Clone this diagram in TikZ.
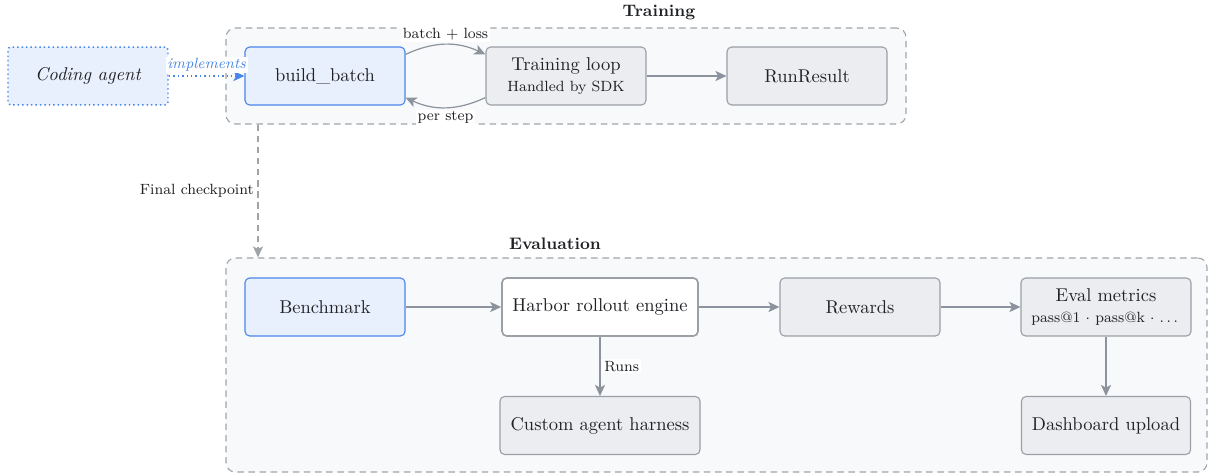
\documentclass[tikz,border=0pt]{standalone}
\usepackage{amsmath,amssymb}
\usepackage{xcolor}
\usepackage{tikz}
\usetikzlibrary{arrows.meta}
\definecolor{Ink}{HTML}{202124}
\definecolor{BlueEdge}{HTML}{4A86E8}
\definecolor{BlueFill}{HTML}{E8F0FD}
\definecolor{BoxGray}{HTML}{ECEDF0}
\definecolor{EdgeGray}{HTML}{9AA0A6}
\definecolor{Wire}{HTML}{8C939D}
\definecolor{GroupFill}{HTML}{F8F9FB}
\definecolor{GroupEdge}{HTML}{A0A4AA}

\begin{document}
\begin{tikzpicture}[
  x=0.54pt,
  y=-0.54pt,
  box/.style={minimum width=86.4pt,minimum height=31.3pt,rounded corners=2.5pt,draw=EdgeGray,line width=0.6pt,fill=BoxGray,text=Ink,inner sep=2pt,align=center},
  userbox/.style={box,fill=BlueFill,draw=BlueEdge},
  enginebox/.style={box,fill=white,line width=0.9pt},
  agentbox/.style={box,fill=BlueFill,draw=BlueEdge,line width=0.8pt,dash pattern=on 0.8pt off 1.6pt,rounded corners=1.5pt,font=\itshape},
  group/.style={draw=GroupEdge,fill=GroupFill,dash pattern=on 3.5pt off 2.5pt,rounded corners=5pt,line width=0.6pt,inner sep=0pt},
  grouptitle/.style={font=\small\bfseries,text=Ink},
  flow/.style={-{Stealth[length=6pt,width=5.5pt,inset=1.5pt]},draw=Wire,line width=0.65pt},
  lbl/.style={font=\footnotesize,text=Ink,fill=white,inner sep=1pt}
]
  \useasboundingbox (0,0) rectangle (1210,475);

  % Training group
  \node[group,minimum width=367.2pt,minimum height=51.8pt] (train) at (566,76) {};
  \node[grouptitle] (traintitle) at (659,12) {Training};
  \node[agentbox] (agent) at (88,76) {Coding agent};
  \node[userbox] (batch) at (325,76) {build\_batch};
  \node[box] (loop) at (566,76) {Training loop\\[-1pt]{\footnotesize Handled by SDK}};
  \node[box] (result) at (807,76) {RunResult};

  \draw[flow,draw=BlueEdge,line width=0.8pt,dash pattern=on 0.8pt off 1.6pt] (agent) -- node[lbl,above=1pt,text=BlueEdge,font=\footnotesize\itshape] {implements} (batch);
  \draw[flow] (batch.15) to[bend left=25] node[lbl,above=1pt] {batch + loss} (loop.165);
  \draw[flow] (loop.195) to[bend left=25] node[lbl,below=1pt] {per step} (batch.-15);
  \draw[flow] (loop) -- (result);

  % Evaluation group
  \node[group,minimum width=529.7pt,minimum height=115.6pt] (eval) at (716.5,365) {};
  \node[grouptitle] (evaltitle) at (555,244) {Evaluation};
  \node[userbox] (bench) at (325,307) {Benchmark};
  \node[enginebox,minimum width=105.8pt] (harbor) at (600,307) {Harbor rollout engine};
  \node[box] (rewards) at (860,307) {Rewards};
  \node[box,minimum width=91.8pt] (metrics) at (1106,307) {Eval metrics\\[-1pt]{\footnotesize pass@1 $\cdot$ pass@k $\cdot$ $\dots$}};
  \node[box,minimum width=108pt] (harness) at (600,425.5) {Custom agent harness};
  \node[box,minimum width=91.3pt] (upload) at (1106,425.5) {Dashboard upload};

  \draw[flow] (bench) -- (harbor);
  \draw[flow] (harbor) -- (rewards);
  \draw[flow] (rewards) -- (metrics);
  \draw[flow] (harbor) -- node[lbl,right=1pt] {Runs} (harness);
  \draw[flow] (metrics) -- (upload);

  % checkpoint handoff
  \coordinate (ckpt) at (258,190);
  \draw[flow,draw=GroupEdge,line width=0.6pt,dash pattern=on 3.5pt off 2.5pt] (train.south -| ckpt) -- node[lbl,left=1pt] {Final checkpoint} (eval.north -| ckpt);
\end{tikzpicture}
\end{document}
